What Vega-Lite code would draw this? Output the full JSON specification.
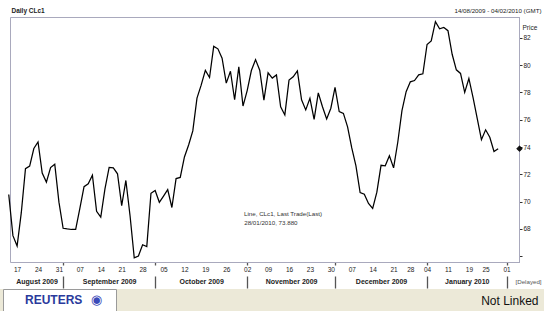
{
  "$schema": "https://vega.github.io/schema/vega-lite/v6.json",
  "width": 544,
  "height": 289,
  "autosize": {"type": "none"},
  "padding": {"left": 0, "top": 0, "right": 0, "bottom": 22},
  "background": "#ECE9D8",
  "config": {
    "view": {"fill": "white", "stroke": null},
    "font": "Liberation Sans, Arial, sans-serif"
  },
  "datasets": {
    "prices": [
      {"d": "2009-08-13", "i": -1, "p": 70.52},
      {"d": "2009-08-14", "i": 0, "p": 67.51},
      {"d": "2009-08-17", "i": 1, "p": 66.75},
      {"d": "2009-08-18", "i": 2, "p": 69.19},
      {"d": "2009-08-19", "i": 3, "p": 72.42},
      {"d": "2009-08-20", "i": 4, "p": 72.6},
      {"d": "2009-08-21", "i": 5, "p": 73.89},
      {"d": "2009-08-24", "i": 6, "p": 74.37},
      {"d": "2009-08-25", "i": 7, "p": 72.1},
      {"d": "2009-08-26", "i": 8, "p": 71.43},
      {"d": "2009-08-27", "i": 9, "p": 72.49},
      {"d": "2009-08-28", "i": 10, "p": 72.74},
      {"d": "2009-08-31", "i": 11, "p": 69.96},
      {"d": "2009-09-01", "i": 12, "p": 68.05},
      {"d": "2009-09-02", "i": 13, "p": 68.0},
      {"d": "2009-09-03", "i": 14, "p": 67.96},
      {"d": "2009-09-04", "i": 15, "p": 67.97},
      {"d": "2009-09-07", "i": 16, "p": 69.5},
      {"d": "2009-09-08", "i": 17, "p": 71.1},
      {"d": "2009-09-09", "i": 18, "p": 71.31},
      {"d": "2009-09-10", "i": 19, "p": 71.94},
      {"d": "2009-09-11", "i": 20, "p": 69.29},
      {"d": "2009-09-14", "i": 21, "p": 68.86},
      {"d": "2009-09-15", "i": 22, "p": 70.93},
      {"d": "2009-09-16", "i": 23, "p": 72.51},
      {"d": "2009-09-17", "i": 24, "p": 72.47},
      {"d": "2009-09-18", "i": 25, "p": 72.04},
      {"d": "2009-09-21", "i": 26, "p": 69.71},
      {"d": "2009-09-22", "i": 27, "p": 71.55},
      {"d": "2009-09-23", "i": 28, "p": 68.97},
      {"d": "2009-09-24", "i": 29, "p": 65.89},
      {"d": "2009-09-25", "i": 30, "p": 66.02},
      {"d": "2009-09-28", "i": 31, "p": 66.84},
      {"d": "2009-09-29", "i": 32, "p": 66.71},
      {"d": "2009-09-30", "i": 33, "p": 70.61},
      {"d": "2009-10-01", "i": 34, "p": 70.82},
      {"d": "2009-10-02", "i": 35, "p": 69.95},
      {"d": "2009-10-05", "i": 36, "p": 70.41},
      {"d": "2009-10-06", "i": 37, "p": 70.88},
      {"d": "2009-10-07", "i": 38, "p": 69.57},
      {"d": "2009-10-08", "i": 39, "p": 71.69},
      {"d": "2009-10-09", "i": 40, "p": 71.77},
      {"d": "2009-10-12", "i": 41, "p": 73.27},
      {"d": "2009-10-13", "i": 42, "p": 74.15},
      {"d": "2009-10-14", "i": 43, "p": 75.18},
      {"d": "2009-10-15", "i": 44, "p": 77.58},
      {"d": "2009-10-16", "i": 45, "p": 78.53},
      {"d": "2009-10-19", "i": 46, "p": 79.61},
      {"d": "2009-10-20", "i": 47, "p": 79.09},
      {"d": "2009-10-21", "i": 48, "p": 81.37},
      {"d": "2009-10-22", "i": 49, "p": 81.19},
      {"d": "2009-10-23", "i": 50, "p": 80.5},
      {"d": "2009-10-26", "i": 51, "p": 78.68},
      {"d": "2009-10-27", "i": 52, "p": 79.55},
      {"d": "2009-10-28", "i": 53, "p": 77.46},
      {"d": "2009-10-29", "i": 54, "p": 79.87},
      {"d": "2009-10-30", "i": 55, "p": 77.0},
      {"d": "2009-11-02", "i": 56, "p": 78.13},
      {"d": "2009-11-03", "i": 57, "p": 79.6},
      {"d": "2009-11-04", "i": 58, "p": 80.4},
      {"d": "2009-11-05", "i": 59, "p": 79.62},
      {"d": "2009-11-06", "i": 60, "p": 77.43},
      {"d": "2009-11-09", "i": 61, "p": 79.43},
      {"d": "2009-11-10", "i": 62, "p": 79.05},
      {"d": "2009-11-11", "i": 63, "p": 79.28},
      {"d": "2009-11-12", "i": 64, "p": 76.94},
      {"d": "2009-11-13", "i": 65, "p": 76.35},
      {"d": "2009-11-16", "i": 66, "p": 78.9},
      {"d": "2009-11-17", "i": 67, "p": 79.14},
      {"d": "2009-11-18", "i": 68, "p": 79.58},
      {"d": "2009-11-19", "i": 69, "p": 77.46},
      {"d": "2009-11-20", "i": 70, "p": 76.72},
      {"d": "2009-11-23", "i": 71, "p": 77.56},
      {"d": "2009-11-24", "i": 72, "p": 76.02},
      {"d": "2009-11-25", "i": 73, "p": 77.96},
      {"d": "2009-11-26", "i": 74, "p": 76.95},
      {"d": "2009-11-27", "i": 75, "p": 76.05},
      {"d": "2009-11-30", "i": 76, "p": 76.84},
      {"d": "2009-12-01", "i": 77, "p": 78.37},
      {"d": "2009-12-02", "i": 78, "p": 76.6},
      {"d": "2009-12-03", "i": 79, "p": 76.46},
      {"d": "2009-12-04", "i": 80, "p": 75.47},
      {"d": "2009-12-07", "i": 81, "p": 73.93},
      {"d": "2009-12-08", "i": 82, "p": 72.62},
      {"d": "2009-12-09", "i": 83, "p": 70.67},
      {"d": "2009-12-10", "i": 84, "p": 70.54},
      {"d": "2009-12-11", "i": 85, "p": 69.87},
      {"d": "2009-12-14", "i": 86, "p": 69.51},
      {"d": "2009-12-15", "i": 87, "p": 70.69},
      {"d": "2009-12-16", "i": 88, "p": 72.66},
      {"d": "2009-12-17", "i": 89, "p": 72.62},
      {"d": "2009-12-18", "i": 90, "p": 73.36},
      {"d": "2009-12-21", "i": 91, "p": 72.47},
      {"d": "2009-12-22", "i": 92, "p": 74.35},
      {"d": "2009-12-23", "i": 93, "p": 76.67},
      {"d": "2009-12-24", "i": 94, "p": 78.05},
      {"d": "2009-12-28", "i": 95, "p": 78.77},
      {"d": "2009-12-29", "i": 96, "p": 78.87},
      {"d": "2009-12-30", "i": 97, "p": 79.28},
      {"d": "2009-12-31", "i": 98, "p": 79.36},
      {"d": "2010-01-04", "i": 99, "p": 81.51},
      {"d": "2010-01-05", "i": 100, "p": 81.77},
      {"d": "2010-01-06", "i": 101, "p": 83.18},
      {"d": "2010-01-07", "i": 102, "p": 82.66},
      {"d": "2010-01-08", "i": 103, "p": 82.75},
      {"d": "2010-01-11", "i": 104, "p": 82.52},
      {"d": "2010-01-12", "i": 105, "p": 80.79},
      {"d": "2010-01-13", "i": 106, "p": 79.65},
      {"d": "2010-01-14", "i": 107, "p": 79.39},
      {"d": "2010-01-15", "i": 108, "p": 78.0},
      {"d": "2010-01-19", "i": 109, "p": 79.02},
      {"d": "2010-01-20", "i": 110, "p": 77.62},
      {"d": "2010-01-21", "i": 111, "p": 76.08},
      {"d": "2010-01-22", "i": 112, "p": 74.54},
      {"d": "2010-01-25", "i": 113, "p": 75.26},
      {"d": "2010-01-26", "i": 114, "p": 74.71},
      {"d": "2010-01-27", "i": 115, "p": 73.67},
      {"d": "2010-01-28", "i": 116, "p": 73.88}
    ]
  },
  "data": {"name": "prices"},
  "resolve": {"axis": {"x": "independent", "y": "independent"}},
  "layer": [
    {
      "mark": {"type": "line", "color": "black", "strokeWidth": 1.25},
      "encoding": {
        "x": {
          "field": "i",
          "type": "quantitative",
          "scale": {"domain": [-0.7, 121.1], "range": [10, 519.5], "nice": false, "zero": false},
          "axis": {
            "orient": "bottom",
            "offset": -27,
            "values": [1, 6, 11, 12, 16, 21, 26, 31, 34, 36, 41, 46, 51, 56, 61, 66, 71, 76, 77, 81, 86, 91, 95, 99, 104, 109, 113, 118, 5.65, 23, 45, 66.5, 88, 108.5],
            "labelExpr": "({'1':'17','6':'24','11':'31','16':'07','21':'14','26':'21','31':'28','36':'05','41':'12','46':'19','51':'26','56':'02','61':'09','66':'16','71':'23','76':'30','81':'07','86':'14','91':'21','95':'28','99':'04','104':'11','109':'19','113':'25','118':'01','5.65':'August 2009','23':'September 2009','45':'October 2009','66.5':'November 2009','88':'December 2009','108.5':'January 2010'})[datum.value] || ''",
            "labelOverlap": false,
            "labelFlush": false,
            "labelBound": false,
            "labelAngle": 0,
            "grid": false,
            "domainColor": "#a9a9bd",
            "domainWidth": 1,
            "ticks": true,
            "tickSize": 26,
            "tickDash": [3, 11, 12],
            "tickColor": "#555555",
            "tickWidth": 1.3,
            "tickOpacity": {"condition": {"test": "indexof([12,34,56,77,99,118], datum.value) >= 0", "value": 1}, "value": 0},
            "labelFontSize": {"condition": {"test": "indexof([5.65,23,45,66.5,88,108.5], datum.value) >= 0", "value": 7}, "value": 6.5},
            "labelFontWeight": {"condition": {"test": "indexof([5.65,23,45,66.5,88,108.5], datum.value) >= 0", "value": "bold"}, "value": "normal"},
            "labelPadding": {"condition": {"test": "indexof([5.65,23,45,66.5,88,108.5], datum.value) >= 0", "value": -11}, "value": -22},
            "labelColor": "#222222",
            "title": "Not Linked",
            "titleX": 538,
            "titleY": 38,
            "titleAlign": "right",
            "titleBaseline": "middle",
            "titleFontSize": 12,
            "titleFontWeight": "normal",
            "titleColor": "#111111"
          }
        },
        "y": {
          "field": "p",
          "type": "quantitative",
          "scale": {"domain": [65.58, 83.52], "range": [262, 17], "nice": false, "zero": false},
          "axis": {
            "orient": "right",
            "offset": -25,
            "values": [66, 68, 70, 72, 74, 76, 78, 80, 82],
            "labelExpr": "datum.value == 66 ? '' : datum.label",
            "grid": false,
            "domainColor": "#a9a9bd",
            "tickSize": 3,
            "tickColor": "#333333",
            "labelFontSize": 6.5,
            "labelPadding": 1,
            "labelColor": "#222222",
            "labelFlush": false,
            "labelBound": false,
            "title": "Price",
            "titleAngle": 0,
            "titleX": 3,
            "titleY": 27,
            "titleAlign": "left",
            "titleBaseline": "middle",
            "titleFontSize": 6.5,
            "titleFontWeight": "normal",
            "titleColor": "#222222"
          }
        },
        "stroke": {
          "datum": "CLc1",
          "scale": {"range": ["black"]},
          "legend": {
            "orient": "none",
            "legendX": 244,
            "legendY": 211,
            "title": "Line, CLc1, Last Trade(Last)",
            "titleFontSize": 6.2,
            "titleFontWeight": "normal",
            "titleColor": "#333333",
            "titlePadding": 3,
            "labelExpr": "'28/01/2010, 73.880'",
            "labelFontSize": 6.2,
            "labelColor": "#333333",
            "symbolType": "circle",
            "symbolSize": 0,
            "symbolOpacity": 0,
            "symbolStrokeWidth": 0,
            "labelOffset": -6,
            "padding": 0
          }
        }
      }
    },
    {
      "transform": [{"filter": "datum.i == 116"}],
      "mark": {"type": "point", "filled": true, "color": "black", "size": 40},
      "encoding": {
        "x": {
          "datum": 121.1,
          "type": "quantitative",
          "scale": {"domain": [-0.7, 121.1], "range": [10, 519.5], "nice": false, "zero": false},
          "axis": {
            "orient": "top",
            "offset": -17,
            "ticks": false,
            "labels": false,
            "grid": false,
            "domainColor": "#a9a9bd",
            "title": "14/08/2009 - 04/02/2010 (GMT)",
            "titleX": 541,
            "titleY": -7,
            "titleAlign": "right",
            "titleBaseline": "middle",
            "titleFontSize": 6.2,
            "titleFontWeight": "normal",
            "titleColor": "#222222"
          }
        },
        "y": {
          "field": "p",
          "type": "quantitative",
          "scale": {"domain": [65.58, 83.52], "range": [262, 17], "nice": false, "zero": false},
          "axis": {
            "orient": "left",
            "offset": -10,
            "ticks": false,
            "labels": false,
            "grid": false,
            "domainColor": "#a9a9bd",
            "title": "Daily CLc1",
            "titleAngle": 0,
            "titleX": 1,
            "titleY": 10,
            "titleAlign": "left",
            "titleBaseline": "middle",
            "titleFontSize": 6.5,
            "titleFontWeight": "bold",
            "titleColor": "#222222"
          }
        },
        "shape": {
          "datum": "REUTERS",
          "scale": {"range": ["diamond"]},
          "legend": {
            "orient": "none",
            "legendX": 3,
            "legendY": 289,
            "title": "\u2800\u2800REUTERS",
            "titleOrient": "left",
            "titleFontSize": 12,
            "titleFontWeight": "bold",
            "titleColor": "#2a3a9c",
            "titlePadding": 4,
            "fillColor": "white",
            "strokeColor": "#9a9a9a",
            "padding": 4,
            "labelExpr": "'\u25c9\u2800'",
            "labelFontSize": 13,
            "labelColor": "#3a4ab8",
            "labelOffset": -9,
            "symbolSize": 0,
            "symbolOpacity": 0,
            "symbolStrokeWidth": 0
          }
        }
      }
    },
    {
      "transform": [{"filter": "datum.i == 116"}],
      "mark": {"type": "point", "filled": true, "color": "black", "size": 40, "shape": "diamond"},
      "encoding": {
        "x": {
          "datum": 121.1,
          "type": "quantitative",
          "scale": {"domain": [-0.7, 121.1], "range": [10, 519.5], "nice": false, "zero": false},
          "axis": {
            "orient": "bottom",
            "offset": -27,
            "domain": false,
            "ticks": false,
            "labels": false,
            "grid": false,
            "title": "[Delayed]",
            "titleX": 528,
            "titleY": 19,
            "titleAlign": "center",
            "titleBaseline": "middle",
            "titleFontSize": 6.2,
            "titleFontWeight": "normal",
            "titleColor": "#555555"
          }
        },
        "y": {
          "field": "p",
          "type": "quantitative",
          "scale": {"domain": [65.58, 83.52], "range": [262, 17], "nice": false, "zero": false},
          "axis": null
        }
      }
    }
  ]
}
